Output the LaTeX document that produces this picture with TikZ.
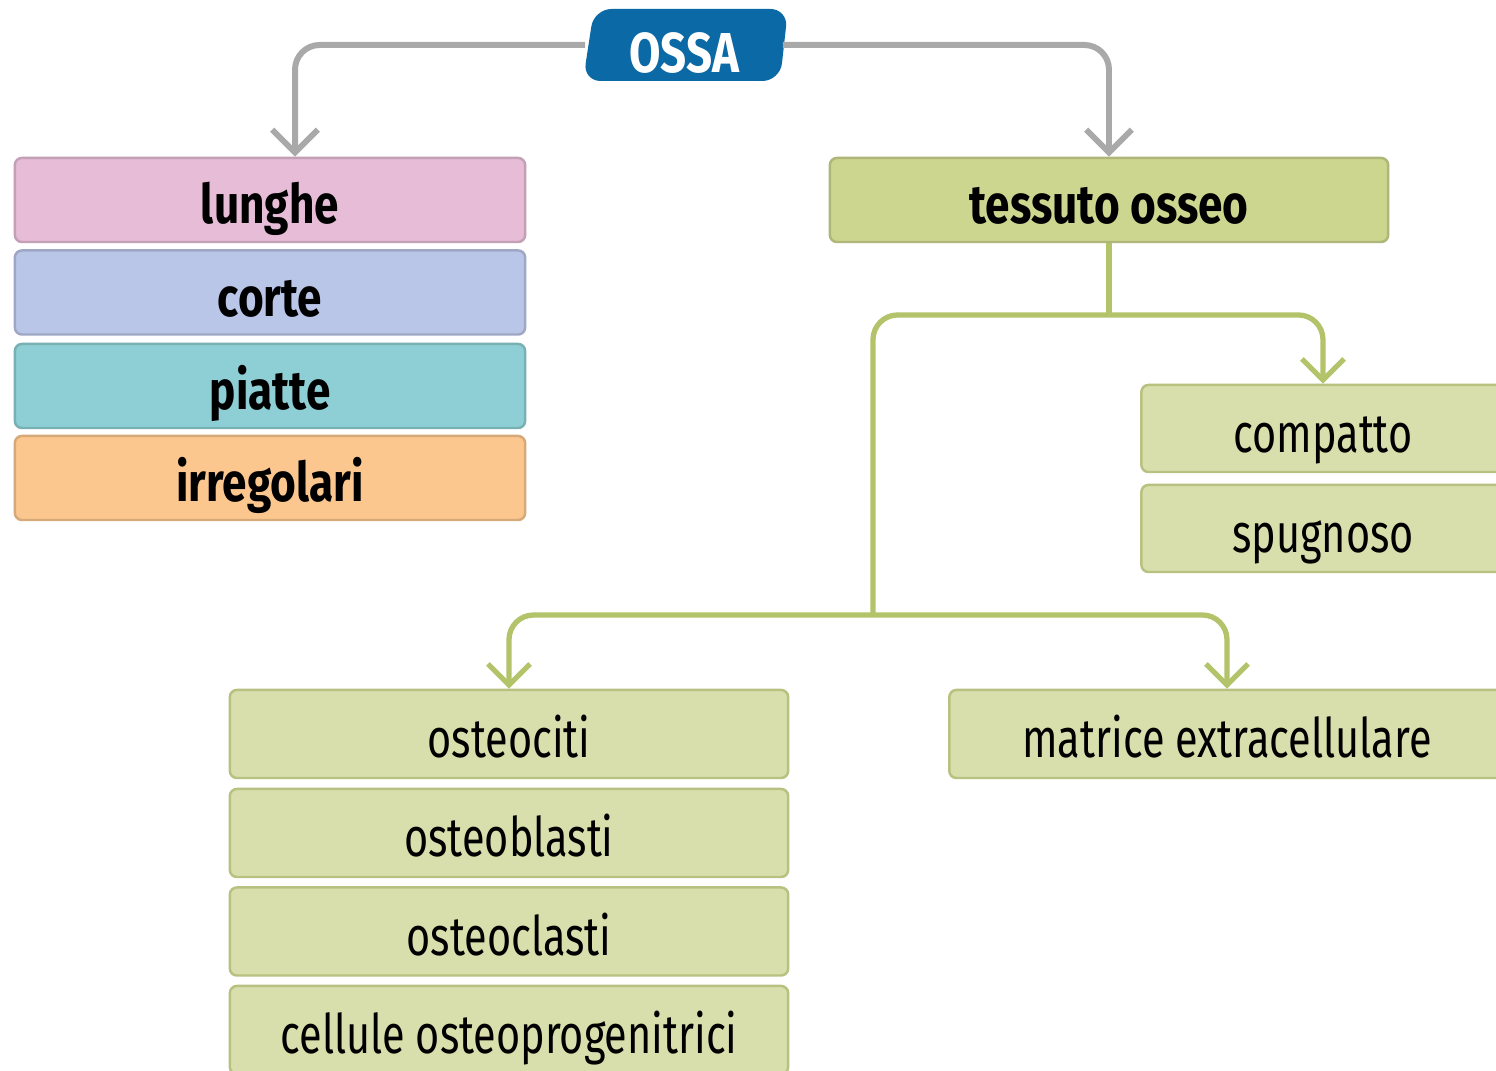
\documentclass[tikz,border=0pt]{standalone}
\usepackage{fontspec}
\setmainfont{Fira Sans}[FakeStretch=0.76, BoldFeatures={FakeStretch=0.81}]
\usetikzlibrary{arrows.meta}
\definecolor{ossablue}{HTML}{0B69A6}
\definecolor{greyline}{HTML}{A9A9A9}
\definecolor{greenline}{HTML}{B3C36A}
\definecolor{pinkbox}{HTML}{E6BCD7}
\definecolor{lilacbox}{HTML}{BAC6E8}
\definecolor{tealbox}{HTML}{8DCFD4}
\definecolor{orangebox}{HTML}{FCC78E}
\definecolor{olivebox}{HTML}{CDD68E}
\definecolor{palebox}{HTML}{D8DFAC}

\begin{document}
\begin{tikzpicture}[x=0.01cm, y=-0.01cm,
    box/.style={draw, rounded corners=2pt, line width=0.7pt, inner sep=0pt,
      text height=13.6pt, text depth=0pt, font=\fontsize{15.5}{18}\selectfont},
    kind/.style={box, fill=#1, draw=#1!85!black, minimum width=5.1cm, minimum height=0.84cm, font=\fontsize{15.5}{18}\selectfont\bfseries},
    tissue/.style={box, fill=palebox, draw=olivebox!90!black, minimum height=0.87cm},
    grey link/.style={draw=greyline, line width=1.7pt, rounded corners=7pt, -{Straight Barb[length=6.5pt,width=13pt]}},
    green link/.style={draw=greenline, line width=1.5pt, rounded corners=7pt, -{Straight Barb[length=6pt,width=12pt]}}]
  \clip (0,0) rectangle (1496,1071);
  \fill[white] (0,0) rectangle (1496,1071);

  \fill[ossablue, rounded corners=5pt] (594,9) -- (788,9) -- (780,81) -- (583,81) -- cycle;
  \node[text=white, minimum width=1.96cm, inner sep=0pt, text height=15.6pt, text depth=0pt,
    font=\fontsize{16}{20}\selectfont\bfseries] (ossa) at (684,45) {OSSA};

  \node[kind=pinkbox] (lunghe) at (270,200) {lunghe};
  \node[kind=lilacbox] (corte) at (270,292.5) {corte};
  \node[kind=tealbox] (piatte) at (270,386) {piatte};
  \node[kind=orangebox] (irregolari) at (270,478) {irregolari};

  \node[box, fill=olivebox, draw=olivebox!85!black, minimum width=5.58cm, minimum height=0.84cm,
    font=\fontsize{15.5}{18}\selectfont\bfseries] (tessuto) at (1109,200) {tessuto osseo};

  \node[tissue, minimum width=3.63cm] (compatto) at (1323,428.5) {compatto};
  \node[tissue, minimum width=3.63cm] (spugnoso) at (1323,528.5) {spugnoso};

  \node[tissue, minimum width=5.58cm, minimum height=0.88cm] (osteociti) at (509,734) {osteociti};
  \node[tissue, minimum width=5.58cm, minimum height=0.88cm] (osteoblasti) at (509,833) {osteoblasti};
  \node[tissue, minimum width=5.58cm, minimum height=0.88cm] (osteoclasti) at (509,931.5) {osteoclasti};
  \node[tissue, minimum width=5.58cm, minimum height=0.88cm] (cellule) at (509,1030) {cellule osteoprogenitrici};
  \node[tissue, minimum width=5.55cm, minimum height=0.88cm] (matrice) at (1227,734) {matrice extracellulare};

  \coordinate (hub) at (1109,315);
  \coordinate (split) at (873,615);

  \draw[grey link] (ossa.west) -| ([xshift=0.25cm]lunghe.north);
  \draw[grey link] (ossa.east) -| (tessuto.north);

  \draw[draw=greenline, line width=1.5pt] (tessuto.south) -- (hub);
  \draw[green link] (split) |- (hub) -| (compatto.north);
  \draw[green link, {Straight Barb[length=6pt,width=12pt]}-{Straight Barb[length=6pt,width=12pt]}]
    (osteociti.north) |- (split) -| (matrice.north);
\end{tikzpicture}
\end{document}
